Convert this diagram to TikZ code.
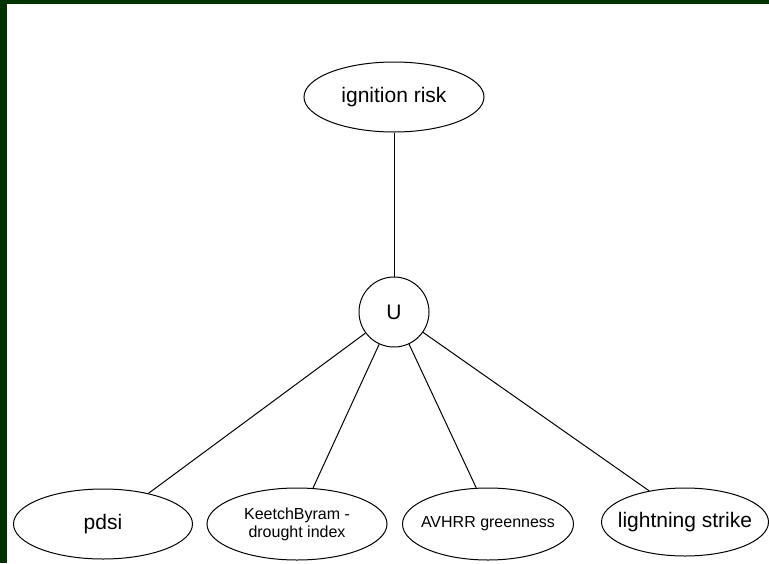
\documentclass[tikz,border=0pt]{standalone}
\usepackage{fontspec}
\setmainfont{Liberation Sans}
\usetikzlibrary{shapes.geometric}
\definecolor{frame}{RGB}{0,51,0}
\begin{document}
\begin{tikzpicture}[x=1pt,y=-1pt,
  var/.style={draw, ellipse, line width=1pt, inner sep=0pt,
    font=\fontsize{21}{24}\selectfont},
  small/.style={font=\fontsize{16}{18}\selectfont, align=center},
  tight/.style={inner xsep=-12pt},
  util/.style={draw, circle, line width=1pt, inner sep=0pt,
    minimum size=70pt, font=\fontsize{21}{24}\selectfont},
  link/.style={line width=1pt}]
  % frame and canvas
  \fill[frame] (0,0) rectangle (769,563);
  \fill[white] (7,4) rectangle (769,563);
  \useasboundingbox (0,0) rectangle (769,563);

  % nodes
  \node[var, minimum width=180pt, minimum height=70pt] (ign) at (394,97) {ignition risk};
  \node[util] (U) at (394,312) {U};
  \node[var, minimum width=179pt, minimum height=70pt] (pdsi) at (103,524) {pdsi};
  \node[var, small, minimum width=180pt, minimum height=72pt] (kbdi) at (297,524) {KeetchByram -\\drought index};
  \node[var, small, tight, minimum width=171pt, minimum height=72pt] (avhrr) at (488,524) {AVHRR greenness};
  \node[var, tight, minimum width=167pt, minimum height=68pt] (light) at (685,522) {lightning strike};

  % connectors
  \draw[link] (ign) -- (U);
  \draw[link] (U) -- (pdsi.34);
  \draw[link] (U) -- (kbdi.66);
  \draw[link] (U) -- (avhrr.108);
  \draw[link] (U) -- (light.139);
\end{tikzpicture}
\end{document}
